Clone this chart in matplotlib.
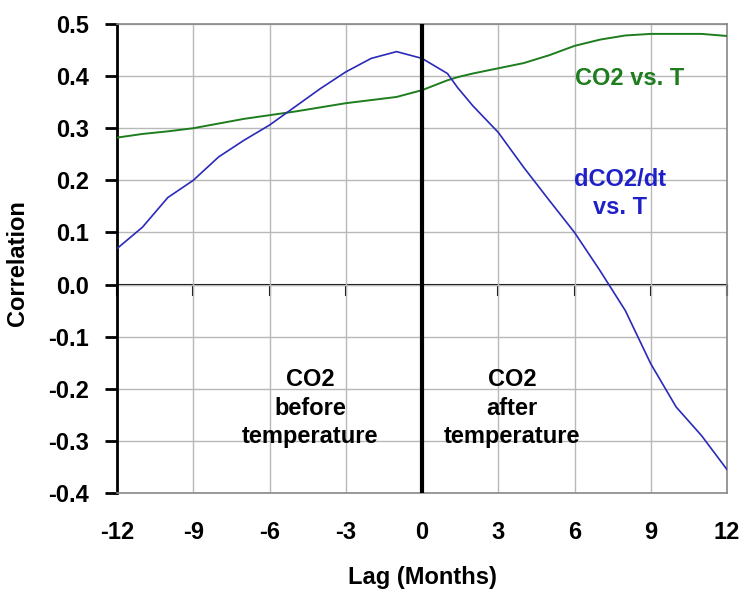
import matplotlib.pyplot as plt
import numpy as np

plt.rcParams['font.family'] = ['Liberation Sans', 'DejaVu Sans']
plt.rcParams['font.weight'] = 'bold'
plt.rcParams['axes.unicode_minus'] = False

# lag in months
lag = [-12, -11, -10, -9, -8, -7, -6, -5, -4, -3, -2, -1, 0,
       1, 1.4, 2, 3, 4, 5, 6, 7, 8, 9, 10, 11, 12]
# dCO2/dt vs. T correlation
dco2_corr = [0.069, 0.11, 0.167, 0.2, 0.245, 0.277, 0.306, 0.341, 0.376, 0.408, 0.434, 0.447, 0.434,
             0.405, 0.378, 0.343, 0.292, 0.225, 0.162, 0.10, 0.027, -0.05, -0.152, -0.235, -0.29, -0.355]
# CO2 vs. T correlation
co2_corr = [0.282, 0.289, 0.294, 0.30, 0.309, 0.318, 0.325, 0.332, 0.34, 0.348, 0.354, 0.36, 0.373,
            0.392, 0.398, 0.405, 0.415, 0.425, 0.44, 0.458, 0.47, 0.478, 0.481, 0.481, 0.481, 0.477]

x_ticks = [-12, -9, -6, -3, 0, 3, 6, 9, 12]
y_ticks = [-0.4, -0.3, -0.2, -0.1, 0.0, 0.1, 0.2, 0.3, 0.4, 0.5]

fig = plt.figure(figsize=(7.44, 5.95), dpi=100)
ax = fig.add_axes([117 / 744, 1 - 493 / 595, 610 / 744, 469 / 595])

ax.grid(True, color='#b8b8b8', linewidth=1)
ax.set_axisbelow(True)

ax.plot(lag, co2_corr, color='#1e7d1e', linewidth=1.4, zorder=3)
ax.plot(lag, dco2_corr, color='#2a2ab8', linewidth=1.2, zorder=3)

ax.axvline(0, color='black', linewidth=3, zorder=4)

ax.set_xlim(-12, 12)
ax.set_ylim(-0.4, 0.5)
ax.set_xticks(x_ticks)
ax.set_yticks(y_ticks)
ax.set_yticklabels([f"{v:.1f}" for v in y_ticks])

# axis through zero with small ticks
zero_ax = ax.secondary_xaxis(0.4 / 0.9)
zero_ax.set_xticks(x_ticks)
zero_ax.tick_params(direction='out', length=8, width=1.5, color='black', labelbottom=False, labeltop=False)
zero_ax.spines['bottom'].set_color('black')
zero_ax.spines['bottom'].set_linewidth(1.5)
zero_ax.spines['top'].set_visible(False)

for side in ['top', 'right', 'bottom']:
    ax.spines[side].set_color('#888888')
    ax.spines[side].set_linewidth(1.2)
ax.spines['left'].set_color('black')
ax.spines['left'].set_linewidth(2)

ax.tick_params(axis='y', direction='out', length=9, width=2, labelsize=17, pad=11)
ax.tick_params(axis='x', length=0, labelsize=17, pad=20)

ax.set_ylabel("Correlation", fontsize=17, fontweight='bold')
ax.yaxis.set_label_coords(-0.145, 0.49)
ax.set_xlabel("Lag (Months)", fontsize=17, fontweight='bold', labelpad=16)

ax.text(8.15, 0.396, "CO2 vs. T", color='#1e7d1e', fontsize=17, ha='center', va='center')
ax.text(7.8, 0.175, "dCO2/dt\nvs. T", color='#2020c8', fontsize=17, ha='center', va='center',
        linespacing=1.25)
ax.text(-4.4, -0.237, "CO2\nbefore\ntemperature", color='black', fontsize=17, ha='center', va='center',
        linespacing=1.3)
ax.text(3.55, -0.237, "CO2\nafter\ntemperature", color='black', fontsize=17, ha='center', va='center',
        linespacing=1.3)

fig.savefig("out.png", dpi=100)
